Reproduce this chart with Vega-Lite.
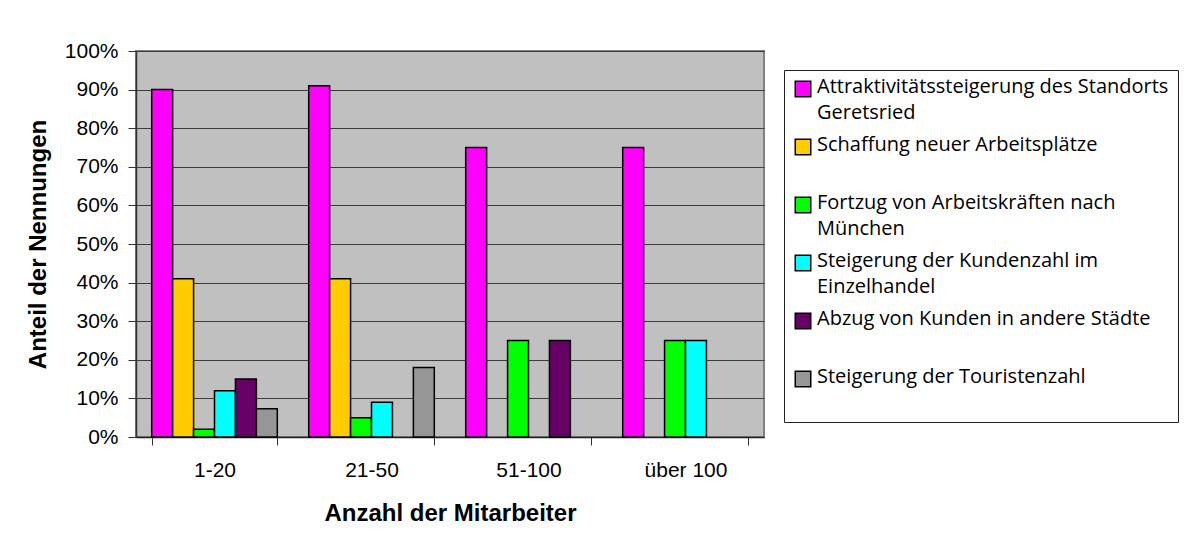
{
  "$schema": "https://vega.github.io/schema/vega-lite/v6.json",
  "width": 628,
  "height": 386,
  "autosize": {"type": "none"},
  "padding": {"left": 136, "top": 51, "right": 420, "bottom": 102},
  "background": "white",
  "data": {
    "values": [
      {"gruppe": "1-20", "kategorie": "Attraktivitätssteigerung des Standorts Geretsried", "anteil": 0.90},
      {"gruppe": "1-20", "kategorie": "Schaffung neuer Arbeitsplätze", "anteil": 0.41},
      {"gruppe": "1-20", "kategorie": "Fortzug von Arbeitskräften nach München", "anteil": 0.02},
      {"gruppe": "1-20", "kategorie": "Steigerung der Kundenzahl im Einzelhandel", "anteil": 0.12},
      {"gruppe": "1-20", "kategorie": "Abzug von Kunden in andere Städte", "anteil": 0.15},
      {"gruppe": "1-20", "kategorie": "Steigerung der Touristenzahl", "anteil": 0.073},
      {"gruppe": "21-50", "kategorie": "Attraktivitätssteigerung des Standorts Geretsried", "anteil": 0.91},
      {"gruppe": "21-50", "kategorie": "Schaffung neuer Arbeitsplätze", "anteil": 0.41},
      {"gruppe": "21-50", "kategorie": "Fortzug von Arbeitskräften nach München", "anteil": 0.05},
      {"gruppe": "21-50", "kategorie": "Steigerung der Kundenzahl im Einzelhandel", "anteil": 0.09},
      {"gruppe": "21-50", "kategorie": "Steigerung der Touristenzahl", "anteil": 0.18},
      {"gruppe": "51-100", "kategorie": "Attraktivitätssteigerung des Standorts Geretsried", "anteil": 0.75},
      {"gruppe": "51-100", "kategorie": "Fortzug von Arbeitskräften nach München", "anteil": 0.25},
      {"gruppe": "51-100", "kategorie": "Abzug von Kunden in andere Städte", "anteil": 0.25},
      {"gruppe": "über 100", "kategorie": "Attraktivitätssteigerung des Standorts Geretsried", "anteil": 0.75},
      {"gruppe": "über 100", "kategorie": "Fortzug von Arbeitskräften nach München", "anteil": 0.25},
      {"gruppe": "über 100", "kategorie": "Steigerung der Kundenzahl im Einzelhandel", "anteil": 0.25}
    ]
  },
  "mark": {"type": "bar", "stroke": "black", "strokeWidth": 1.5},
  "encoding": {
    "x": {
      "field": "gruppe",
      "type": "nominal",
      "sort": ["1-20", "21-50", "51-100", "über 100"],
      "scale": {"paddingInner": 0.2, "paddingOuter": 0.1},
      "axis": {
        "title": "Anzahl der Mitarbeiter",
        "labelAngle": 0,
        "tickBand": "extent",
        "grid": false,
        "tickSize": 8,
        "tickColor": "#333333",
        "domainColor": "#222222",
        "domainWidth": 1.5,
        "labelPadding": 14,
        "labelFont": "Liberation Sans",
        "labelFontSize": 21,
        "labelColor": "black",
        "titleFont": "Liberation Sans",
        "titleFontSize": 24,
        "titleFontWeight": "bold",
        "titleColor": "black",
        "titlePadding": 21
      }
    },
    "xOffset": {
      "field": "kategorie",
      "type": "nominal",
      "scale": {
        "domain": [
          "Attraktivitätssteigerung des Standorts Geretsried",
          "Schaffung neuer Arbeitsplätze",
          "Fortzug von Arbeitskräften nach München",
          "Steigerung der Kundenzahl im Einzelhandel",
          "Abzug von Kunden in andere Städte",
          "Steigerung der Touristenzahl"
        ],
        "paddingInner": 0,
        "paddingOuter": 0
      }
    },
    "y": {
      "field": "anteil",
      "type": "quantitative",
      "scale": {"domain": [0, 1]},
      "axis": {
        "title": "Anteil der Nennungen",
        "format": ".0%",
        "values": [0, 0.1, 0.2, 0.3, 0.4, 0.5, 0.6, 0.7, 0.8, 0.9, 1],
        "grid": true,
        "gridColor": "#3c3c3c",
        "gridWidth": 1,
        "tickSize": 8,
        "tickColor": "#333333",
        "domainColor": "#333333",
        "domainWidth": 1.5,
        "labelPadding": 10,
        "labelFont": "Liberation Sans",
        "labelFontSize": 21,
        "labelColor": "black",
        "titleFont": "Liberation Sans",
        "titleFontSize": 24,
        "titleFontWeight": "bold",
        "titleColor": "black",
        "titlePadding": 14
      }
    },
    "color": {
      "field": "kategorie",
      "type": "nominal",
      "scale": {
        "domain": [
          "Attraktivitätssteigerung des Standorts Geretsried",
          "Schaffung neuer Arbeitsplätze",
          "Fortzug von Arbeitskräften nach München",
          "Steigerung der Kundenzahl im Einzelhandel",
          "Abzug von Kunden in andere Städte",
          "Steigerung der Touristenzahl"
        ],
        "range": ["#FF00FF", "#FFCC00", "#00FF00", "#00FFFF", "#660066", "#969696"]
      },
      "legend": {
        "title": null,
        "orient": "none",
        "legendX": 648,
        "legendY": 19,
        "padding": 9,
        "fillColor": "white",
        "strokeColor": "#222222",
        "symbolType": "square",
        "symbolSize": 240,
        "symbolStrokeColor": "black",
        "symbolStrokeWidth": 1.5,
        "symbolOpacity": 1,
        "labelFont": "Open Sans",
        "labelFontSize": 20,
        "labelColor": "black",
        "labelOffset": 4,
        "labelLimit": 600,
        "labelBaseline": "top",
        "rowPadding": 12,
        "labelExpr": "datum.label == 'Attraktivitätssteigerung des Standorts Geretsried' ? ['Attraktivitätssteigerung des Standorts', 'Geretsried'] : datum.label == 'Fortzug von Arbeitskräften nach München' ? ['Fortzug von Arbeitskräften nach', 'München'] : datum.label == 'Steigerung der Kundenzahl im Einzelhandel' ? ['Steigerung der Kundenzahl im', 'Einzelhandel'] : [datum.label, '']",
        "encode": {
          "labels": {"update": {"lineHeight": {"value": 26}, "dy": {"value": -12}}},
          "symbols": {"update": {"stroke": {"value": "black"}, "strokeWidth": {"value": 1.5}}}
        }
      }
    }
  },
  "config": {
    "view": {"fill": "#C0C0C0", "stroke": "#808080", "strokeWidth": 2}
  }
}
